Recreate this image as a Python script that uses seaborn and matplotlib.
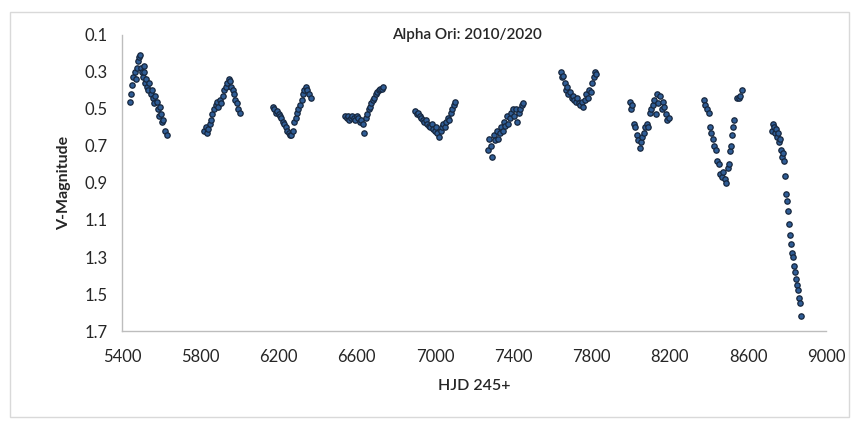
import numpy as np
import pandas as pd
import seaborn as sns
import matplotlib.pyplot as plt
from matplotlib.patches import Rectangle

# observing seasons, HJD 245+ and V magnitude
hjd_2010 = [5440, 5445, 5450, 5458, 5465, 5470, 5475, 5480, 5485, 5490, 5495, 5500, 5505, 5510, 5515, 5520, 5525,
            5530, 5535, 5540, 5548, 5555, 5560, 5565, 5570, 5578, 5585, 5590, 5595, 5600, 5605, 5612, 5620, 5628]
mag_2010 = [0.46, 0.42, 0.37, 0.33, 0.30, 0.34, 0.28, 0.24, 0.22, 0.21, 0.28, 0.30, 0.33, 0.27, 0.30, 0.36, 0.34,
            0.38, 0.40, 0.36, 0.42, 0.40, 0.44, 0.47, 0.43, 0.46, 0.50, 0.54, 0.49, 0.53, 0.57, 0.56, 0.62, 0.64]

hjd_2011 = [5820, 5828, 5835, 5840, 5848, 5855, 5862, 5870, 5878, 5885, 5892, 5900, 5908, 5915, 5922, 5930, 5938,
            5945, 5950, 5958, 5965, 5972, 5980, 5988, 5995, 6002]
mag_2011 = [0.62, 0.60, 0.63, 0.61, 0.58, 0.56, 0.53, 0.50, 0.48, 0.46, 0.49, 0.45, 0.47, 0.43, 0.40, 0.38, 0.36,
            0.34, 0.35, 0.38, 0.40, 0.42, 0.45, 0.47, 0.50, 0.52]

hjd_2012 = [6170, 6178, 6185, 6192, 6200, 6208, 6215, 6222, 6230, 6238, 6245, 6252, 6258, 6265, 6272, 6280, 6288,
            6295, 6302, 6310, 6318, 6325, 6332, 6340, 6348, 6356, 6365]
mag_2012 = [0.49, 0.50, 0.52, 0.51, 0.53, 0.54, 0.55, 0.57, 0.58, 0.60, 0.62, 0.63, 0.64, 0.64, 0.62, 0.57, 0.55,
            0.52, 0.50, 0.48, 0.45, 0.42, 0.40, 0.38, 0.40, 0.42, 0.44]

hjd_2013 = [6540, 6548, 6555, 6562, 6570, 6578, 6585, 6592, 6600, 6608, 6615, 6622, 6630, 6638, 6645, 6652, 6660,
            6668, 6675, 6682, 6690, 6698, 6705, 6712, 6720, 6728, 6736]
mag_2013 = [0.54, 0.55, 0.54, 0.56, 0.55, 0.54, 0.55, 0.56, 0.54, 0.55, 0.57, 0.56, 0.58, 0.63, 0.55, 0.53, 0.50,
            0.49, 0.47, 0.45, 0.44, 0.42, 0.41, 0.40, 0.39, 0.39, 0.38]

hjd_2014 = [6900, 6908, 6915, 6922, 6930, 6938, 6945, 6952, 6960, 6968, 6975, 6982, 6990, 6998, 7005, 7012, 7020,
            7028, 7035, 7042, 7050, 7058, 7065, 7072, 7080, 7088, 7095, 7100]
mag_2014 = [0.51, 0.53, 0.52, 0.54, 0.55, 0.56, 0.57, 0.56, 0.58, 0.59, 0.60, 0.58, 0.61, 0.62, 0.60, 0.63, 0.65,
            0.62, 0.60, 0.58, 0.60, 0.57, 0.55, 0.56, 0.52, 0.50, 0.48, 0.46]

hjd_2015 = [7270, 7278, 7285, 7292, 7300, 7308, 7315, 7322, 7330, 7338, 7345, 7352, 7360, 7368, 7375, 7382, 7390,
            7398, 7405, 7412, 7420, 7428, 7435, 7442, 7450]
mag_2015 = [0.72, 0.66, 0.70, 0.76, 0.64, 0.67, 0.62, 0.66, 0.63, 0.60, 0.62, 0.57, 0.59, 0.54, 0.58, 0.55, 0.52,
            0.50, 0.54, 0.50, 0.57, 0.52, 0.50, 0.48, 0.47]

hjd_2016 = [7642, 7648, 7655, 7662, 7668, 7675, 7682, 7690, 7698, 7705, 7712, 7720, 7728, 7735, 7742, 7750, 7758,
            7765, 7772, 7780, 7788, 7795, 7802, 7810, 7818, 7825]
mag_2016 = [0.30, 0.33, 0.32, 0.36, 0.40, 0.38, 0.42, 0.41, 0.44, 0.43, 0.45, 0.46, 0.44, 0.47, 0.48, 0.46, 0.49,
            0.45, 0.42, 0.44, 0.40, 0.41, 0.36, 0.33, 0.30, 0.31]

hjd_2017 = [7995, 8000, 8005, 8015, 8022, 8030, 8038, 8045, 8052, 8060, 8068, 8075, 8082, 8090, 8098, 8105, 8112,
            8120, 8128, 8135, 8142, 8150, 8158, 8165, 8172, 8180, 8188, 8195]
mag_2017 = [0.46, 0.50, 0.48, 0.58, 0.60, 0.64, 0.67, 0.71, 0.68, 0.65, 0.63, 0.60, 0.58, 0.60, 0.52, 0.50, 0.48,
            0.45, 0.53, 0.42, 0.47, 0.43, 0.50, 0.46, 0.49, 0.53, 0.56, 0.55]

hjd_2018 = [8375, 8382, 8390, 8398, 8405, 8412, 8420, 8428, 8435, 8442, 8450, 8458, 8465, 8472, 8480, 8488, 8495,
            8502, 8510, 8515, 8520, 8525, 8530, 8545, 8552, 8560, 8568]
mag_2018 = [0.45, 0.48, 0.50, 0.52, 0.60, 0.63, 0.66, 0.70, 0.72, 0.78, 0.80, 0.85, 0.87, 0.84, 0.88, 0.90, 0.82,
            0.80, 0.73, 0.70, 0.64, 0.60, 0.56, 0.44, 0.44, 0.43, 0.40]

hjd_2019 = [8722, 8728, 8733, 8738, 8743, 8748, 8753, 8758, 8763, 8768, 8773, 8778, 8783, 8788, 8793, 8798, 8803,
            8808, 8813, 8818, 8823, 8828, 8833, 8838, 8843, 8848, 8853, 8858, 8863, 8868]
mag_2019 = [0.62, 0.58, 0.60, 0.63, 0.61, 0.65, 0.63, 0.68, 0.66, 0.72, 0.76, 0.74, 0.78, 0.86, 0.96, 1.00, 1.05,
            1.12, 1.18, 1.23, 1.28, 1.30, 1.35, 1.38, 1.42, 1.45, 1.48, 1.52, 1.55, 1.62]

x_ticks = [5400, 5800, 6200, 6600, 7000, 7400, 7800, 8200, 8600, 9000]
y_ticks = [0.1, 0.3, 0.5, 0.7, 0.9, 1.1, 1.3, 1.5, 1.7]

df = pd.DataFrame({
    "hjd": hjd_2010 + hjd_2011 + hjd_2012 + hjd_2013 + hjd_2014 + hjd_2015 + hjd_2016 + hjd_2017 + hjd_2018 + hjd_2019,
    "mag": mag_2010 + mag_2011 + mag_2012 + mag_2013 + mag_2014 + mag_2015 + mag_2016 + mag_2017 + mag_2018 + mag_2019,
})

sns.set_style("white")
plt.rcParams["font.family"] = ["Lato", "DejaVu Sans"]

fig = plt.figure(figsize=(8.59, 4.25), dpi=100)
ax = fig.add_axes([0.142, 0.221, 0.820, 0.697])

sns.scatterplot(data=df, x="hjd", y="mag", ax=ax, s=15, color="#2f5d96",
                edgecolor="#16263d", linewidth=0.9, legend=False)

ax.set_xlim(5400, 9000)
ax.set_ylim(1.7, 0.1)
ax.set_xticks(x_ticks)
ax.set_yticks(y_ticks)
ax.set_yticklabels([f"{v:.1f}" for v in y_ticks])
ax.tick_params(axis="both", labelsize=12, length=4, color="#bdbdbd", direction="out", pad=6,
               labelcolor="#262626")
ax.tick_params(axis="x", pad=9)

sns.despine(ax=ax)
for side in ["left", "bottom"]:
    ax.spines[side].set_color("#bdbdbd")
    ax.spines[side].set_linewidth(1.0)

ax.set_xlabel("HJD 245+", fontsize=11.5, fontweight="semibold", labelpad=10, color="#262626")
ax.set_ylabel("V-Magnitude", fontsize=11.5, fontweight="bold", labelpad=10, color="#262626")
ax.text(0.49, 1.0, "Alpha Ori: 2010/2020", transform=ax.transAxes, ha="center", va="center",
        fontsize=11, fontweight="semibold", color="#262626")

# light chart-area border
fig.patches.append(Rectangle((0.012, 0.02), 0.976, 0.952, transform=fig.transFigure,
                             fill=False, edgecolor="#d9d9d9", linewidth=1.0))

fig.savefig("out.png", dpi=100)
